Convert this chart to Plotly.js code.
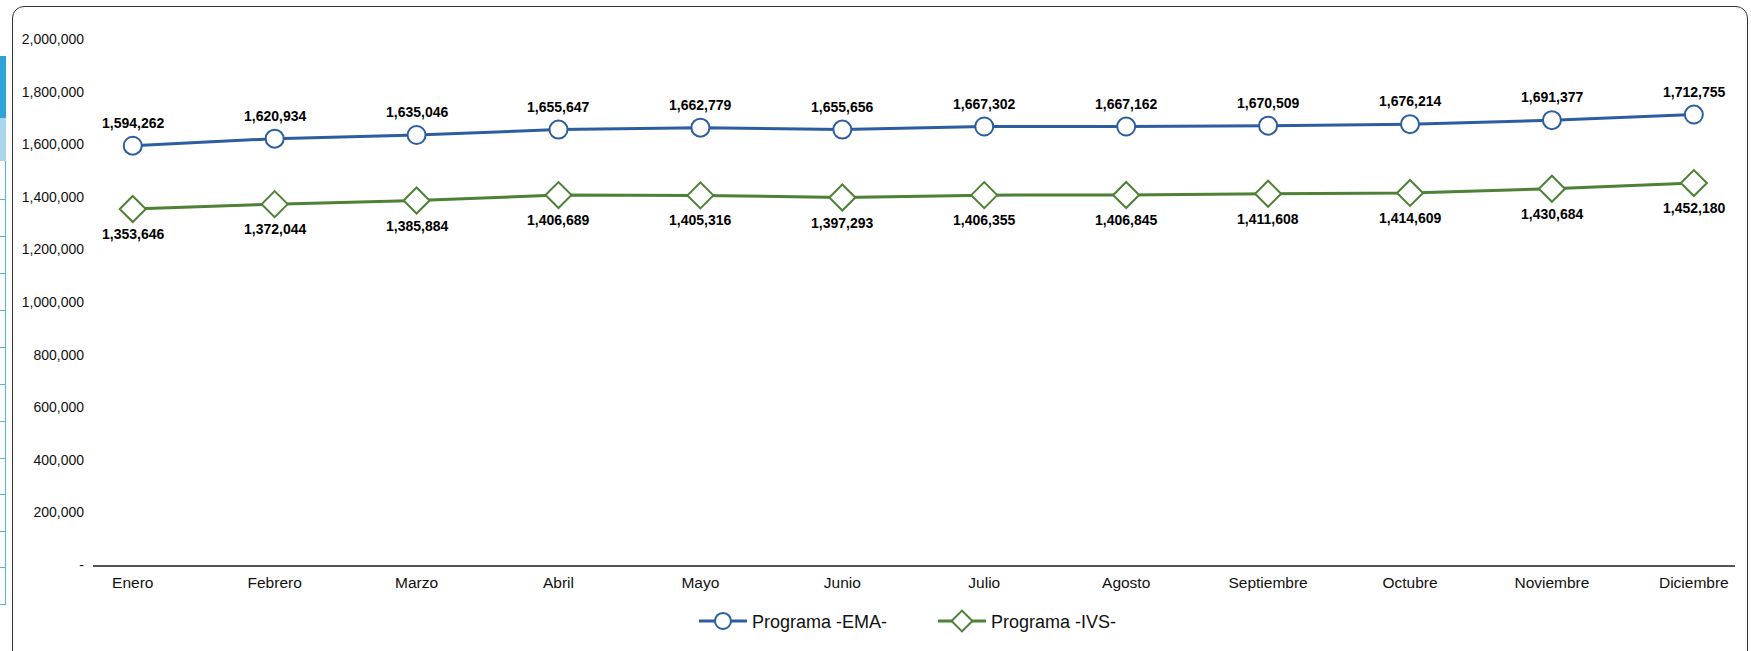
<!DOCTYPE html>
<html>
<head>
<meta charset="utf-8">
<script src="https://cdn.plot.ly/plotly-3.0.1.min.js"></script>
<style>
  html, body { margin:0; padding:0; background:#fff; width:1751px; height:651px; overflow:hidden; }
  #frame { position:absolute; left:12px; top:6px; width:1736px; height:700px; border:1.5px solid #333; border-radius:12px; box-sizing:border-box; }
  #side1 { position:absolute; left:0; top:56px; width:6px; height:62px; background:#2fa3d6; }
  #side2 { position:absolute; left:0; top:118px; width:6px; height:43px; background:#acd4ec; }
  .box { position:absolute; left:0; width:5px; border-right:1px solid #5ab3df; border-bottom:1px solid #5ab3df; }
  #chart { position:absolute; left:0; top:0; width:1751px; height:651px; }
</style>
</head>
<body>
<div id="side1"></div>
<div id="side2"></div>
<div id="boxes"></div>
<div id="frame"></div>
<div id="chart"></div>
<script>
const months = ["Enero","Febrero","Marzo","Abril","Mayo","Junio","Julio","Agosto","Septiembre","Octubre","Noviembre","Diciembre"];
const ema = [1594262,1620934,1635046,1655647,1662779,1655656,1667302,1667162,1670509,1676214,1691377,1712755];
const ivs = [1353646,1372044,1385884,1406689,1405316,1397293,1406355,1406845,1411608,1414609,1430684,1452180];
const yTicks = [0,200000,400000,600000,800000,1000000,1200000,1400000,1600000,1800000,2000000];
const yTickText = ["-","200,000","400,000","600,000","800,000","1,000,000","1,200,000","1,400,000","1,600,000","1,800,000","2,000,000"];

// decorative side boxes (page chrome)
const boxEdges = [161,200,237,274,311,348,385,422,459,495,532,568,605];
const bx = document.getElementById('boxes');
for (let i = 0; i < boxEdges.length - 1; i++) {
  const d = document.createElement('div');
  d.className = 'box';
  d.style.top = boxEdges[i] + 'px';
  d.style.height = (boxEdges[i+1] - boxEdges[i] - 1) + 'px';
  bx.appendChild(d);
}

const fmt = v => v.toLocaleString('en-US');
const FONT = 'Liberation Sans, Arial, Helvetica, sans-serif';
const blue = '#2D5DA1', green = '#4D8135';

const traces = [
  { x: months, y: ema, name: 'Programa -EMA-', type: 'scatter', mode: 'lines+markers',
    line: { color: blue, width: 3 },
    marker: { symbol: 'circle', size: 18, color: '#ffffff', line: { color: blue, width: 2 } },
    cliponaxis: false },
  { x: months, y: ivs, name: 'Programa -IVS-', type: 'scatter', mode: 'lines+markers',
    line: { color: green, width: 3 },
    marker: { symbol: 'diamond', size: 20, color: '#ffffff', line: { color: green, width: 2 } },
    cliponaxis: false }
];

const labelFont = { family: FONT, size: 14, color: '#000', weight: 'bold' };
const annotations = [];
months.forEach((m, i) => {
  annotations.push({ x: m, y: ema[i], xref: 'x', yref: 'y', text: fmt(ema[i]), showarrow: false,
    yanchor: 'middle', yshift: 23, font: labelFont });
  annotations.push({ x: m, y: ivs[i], xref: 'x', yref: 'y', text: fmt(ivs[i]), showarrow: false,
    yanchor: 'middle', yshift: -25, font: labelFont });
});

const layout = {
  width: 1751, height: 651,
  margin: { l: 93, r: 16, t: 39, b: 86, autoexpand: false },
  paper_bgcolor: 'rgba(0,0,0,0)', plot_bgcolor: 'rgba(0,0,0,0)',
  font: { family: FONT, size: 14, color: '#111' },
  showlegend: true,
  annotations: annotations,
  legend: { orientation: 'h', x: 0.366, xanchor: 'left', y: -0.107, yanchor: 'middle',
            font: { family: FONT, size: 18, color: '#111' }, itemwidth: 48,
            entrywidth: 176, entrywidthmode: 'pixels', bgcolor: 'rgba(0,0,0,0)' },
  xaxis: { type: 'category', range: [-0.28, 11.29], showgrid: false, zeroline: false,
           showline: true, linecolor: '#555', linewidth: 2, ticks: '', ticklabelstandoff: 2,
           tickfont: { family: FONT, size: 15.5, color: '#111' }, fixedrange: true },
  yaxis: { range: [0, 2000000], tickvals: yTicks, ticktext: yTickText, showgrid: false,
           zeroline: false, showline: false, ticks: '', ticklabelstandoff: 8,
           tickfont: { family: FONT, size: 14, color: '#111' }, fixedrange: true }
};

Plotly.newPlot('chart', traces, layout, { displayModeBar: false, staticPlot: true });
</script>
</body>
</html>
